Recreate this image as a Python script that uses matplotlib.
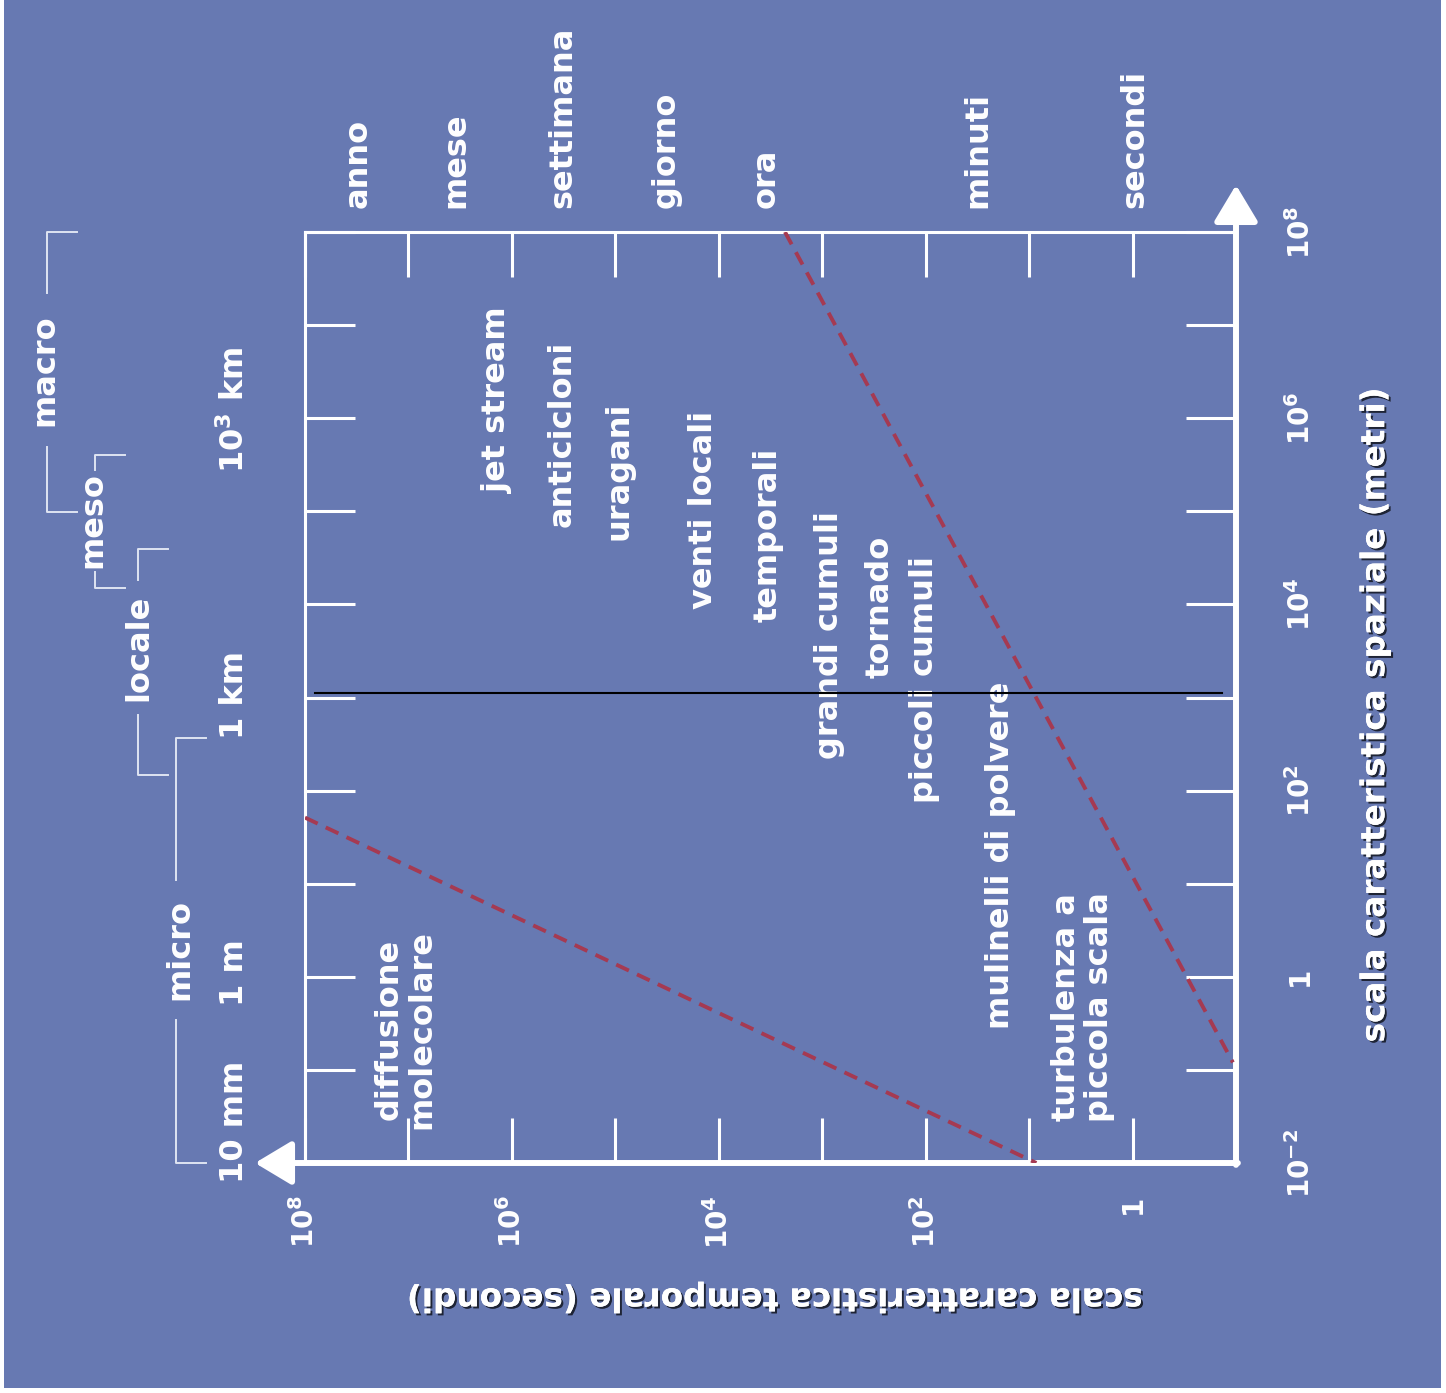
"""Space and time scales of atmospheric phenomena (log-log diagram)."""

import matplotlib
matplotlib.use("Agg")
import matplotlib.pyplot as plt
import matplotlib.patheffects as pe
from matplotlib.patches import Rectangle

W, H = 1446, 1393
BG = "#6779b2"
FG = "white"
DASH = "#a53a52"
BRACKET = "#dfe4f2"

plt.rcParams["font.family"] = ["DejaVu Sans"]
plt.rcParams["font.weight"] = "bold"
plt.rcParams["mathtext.default"] = "bf"

# decades on the two axes (log10)
time_exp = list(range(-1, 9))
space_exp = list(range(-2, 9))
time_ticklabels = {8: r"$10^{8}$", 6: r"$10^{6}$", 4: r"$10^{4}$", 2: r"$10^{2}$", 0: "1"}
space_ticklabels = {-2: r"$10^{-2}$", 0: "1", 2: r"$10^{2}$", 4: r"$10^{4}$",
                    6: r"$10^{6}$", 8: r"$10^{8}$"}

# time units written along the top edge (log10 seconds)
unit_names = ["anno", "mese", "settimana", "giorno", "ora", "minuti", "secondi"]
unit_logt = [7.49, 6.54, 5.51, 4.51, 3.54, 1.50, -0.02]

# phenomena: (log10 time, log10 space)
phenomena = ["diffusione\nmolecolare", "jet stream", "anticicloni", "uragani",
             "venti locali", "temporali", "grandi cumuli", "tornado",
             "piccoli cumuli", "mulinelli di polvere", "turbulenza a\npiccola scala"]
phen_logt = [7.03, 6.14, 5.51, 4.96, 4.15, 3.52, 2.93, 2.44, 2.01, 1.28, 0.48]
phen_logs = [-0.57, 6.19, 5.83, 5.44, 5.01, 4.75, 3.67, 3.97, 3.19, 1.31, -0.32]

# dashed limits (log10 time, log10 space endpoints)
diffusion_logt = [8.0, 0.93]
diffusion_logs = [1.71, -2.0]
turbulence_logt = [3.36, -0.97]
turbulence_logs = [8.0, -0.92]

# 1 km reference line
km_logt = [7.90, -0.865]
km_logs = [3.05, 3.05]

# scale classes on the left: full range, gap left for the word, word centre
scale_names = ["macro", "meso", "locale", "micro"]
scale_lo = [4.99, 4.18, 2.17, -2.0]
scale_hi = [8.0, 5.60, 4.60, 2.57]
scale_gap_lo = [5.69, 4.35, 2.81, -0.46]
scale_gap_hi = [7.35, 5.44, 4.26, 1.04]
scale_text = [6.52, 4.91, 3.53, 0.29]

size_names = ["10 mm", "1 m", "1 km", r"10$^{3}$ km"]
size_logs = [-1.56, 0.04, 3.03, 6.09]

fig = plt.figure(figsize=(W / 100, H / 100), dpi=100)
fig.patch.set_facecolor("white")
fig.patches.append(Rectangle((4 / W, 5 / H), 1437 / W, 1388 / H,
                             transform=fig.transFigure, facecolor=BG,
                             edgecolor="none", zorder=-10))

ax = fig.add_axes([305 / W, 1 - 1163 / H, 931 / W, 931 / H])
ax.set_facecolor("none")
ax.set_xscale("log")
ax.set_yscale("log")
ax.set_xlim(1e8, 1e-1)
ax.set_ylim(1e-2, 1e8)

for side in ["left", "top"]:
    ax.spines[side].set_color(FG)
    ax.spines[side].set_linewidth(2.2)
for side in ["right", "bottom"]:
    ax.spines[side].set_visible(False)

ax.set_xticks([10.0 ** k for k in time_exp])
ax.set_xticklabels([time_ticklabels.get(k, "") for k in time_exp],
                   rotation=90, fontsize=20, color=FG)
ax.set_yticks([10.0 ** k for k in space_exp])
ax.set_yticklabels([space_ticklabels.get(k, "") for k in space_exp],
                   rotation=90, va="center", fontsize=20, color=FG)
ax.minorticks_off()
ax.tick_params(axis="x", which="major", direction="in", length=32.4, width=2.2,
               color=FG, top=True, bottom=True, labelbottom=True, pad=23)
ax.tick_params(axis="y", which="major", direction="in", length=36, width=2.2,
               color=FG, left=True, right=True, labelleft=False,
               labelright=True, pad=36)

# axis arrows
arrow = dict(arrowstyle="-|>,head_length=0.75,head_width=0.45", color=FG,
             lw=4.3, shrinkA=0, shrinkB=0, mutation_scale=30)
ax.annotate("", xy=(1.0, 1.0505), xytext=(1.0, -0.002),
            xycoords="axes fraction", arrowprops=arrow, annotation_clip=False)
ax.annotate("", xy=(-0.0537, 0.0), xytext=(1.002, 0.0),
            xycoords="axes fraction", arrowprops=arrow, annotation_clip=False)

# dashed limits and 1 km line
dash_style = (0, (3.6, 2.3))
ax.plot([10.0 ** v for v in diffusion_logt], [10.0 ** v for v in diffusion_logs],
        color=DASH, lw=2.8, ls=dash_style, zorder=3)
ax.plot([10.0 ** v for v in turbulence_logt], [10.0 ** v for v in turbulence_logs],
        color=DASH, lw=2.8, ls=dash_style, zorder=3)
ax.plot([10.0 ** v for v in km_logt], [10.0 ** v for v in km_logs],
        color="black", lw=1.5, zorder=4)

for name, lt, ls in zip(phenomena, phen_logt, phen_logs):
    ax.text(10.0 ** lt, 10.0 ** ls, name, rotation=90, ha="center", va="center",
            multialignment="center", linespacing=1.05, fontsize=23, color=FG)

top = ax.get_xaxis_transform()
for name, lt in zip(unit_names, unit_logt):
    ax.text(10.0 ** lt, 1.0258, name, transform=top, rotation=90,
            ha="center", va="bottom", fontsize=23, color=FG)

# scale classes with brackets on the left
side = ax.get_yaxis_transform()
bracket_x = [-0.277, -0.2256, -0.179, -0.1386]
text_x = [-0.279, -0.2277, -0.178, -0.134]
arm = 0.032
for name, bx, tx, lo, hi, glo, ghi, ts in zip(scale_names, bracket_x, text_x,
                                              scale_lo, scale_hi, scale_gap_lo,
                                              scale_gap_hi, scale_text):
    ax.plot([bx + arm, bx, bx], [10.0 ** hi, 10.0 ** hi, 10.0 ** ghi],
            transform=side, color=BRACKET, lw=1.4, clip_on=False)
    ax.plot([bx, bx, bx + arm], [10.0 ** glo, 10.0 ** lo, 10.0 ** lo],
            transform=side, color=BRACKET, lw=1.4, clip_on=False)
    ax.text(tx, 10.0 ** ts, name, transform=side, rotation=90, ha="center",
            va="center", fontsize=23, color=FG)

for name, ls in zip(size_names, size_logs):
    ax.text(-0.0752, 10.0 ** ls, name, transform=side, rotation=90,
            ha="center", va="center", fontsize=23, color=FG)

shadow = [pe.withSimplePatchShadow(offset=(1.5, -1.5), shadow_rgbFace="black",
                                   alpha=0.7), pe.Normal()]
ax.text(1.149, 0.481, "scala caratteristica spaziale (metri)",
        transform=ax.transAxes, rotation=90, ha="center", va="center",
        fontsize=23.5, color=FG, path_effects=shadow)
ax.text(0.505, -0.145, "scala caratteristica temporale (secondi)",
        transform=ax.transAxes, rotation=180, ha="center", va="center",
        fontsize=23.5, color=FG, path_effects=shadow)

fig.savefig("out.png", dpi=100, facecolor=fig.get_facecolor())
